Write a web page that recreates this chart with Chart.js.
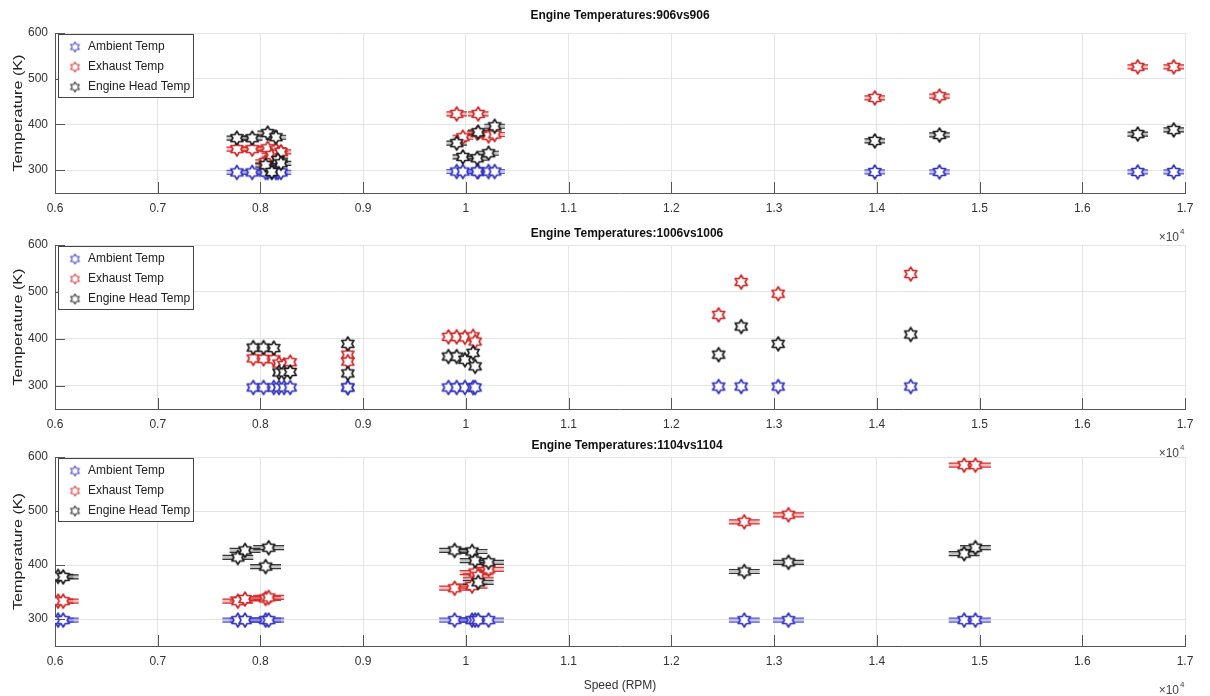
<!DOCTYPE html>
<html><head><meta charset="utf-8">
<script src="https://cdn.jsdelivr.net/npm/chart.js@4.4.1/dist/chart.umd.min.js"></script>
<style>
html,body{margin:0;padding:0;background:#fff;width:1210px;height:696px;overflow:hidden;position:relative}
canvas{position:absolute;left:0}
</style></head><body>
<canvas id="c1" width="1210" height="250" style="top:0px"></canvas>
<canvas id="c2" width="1210" height="240" style="top:222px"></canvas>
<canvas id="c3" width="1210" height="260" style="top:436px"></canvas>
<script>
// ---------- shared labels ----------
const seriesNames = ['Ambient Temp', 'Exhaust Temp', 'Engine Head Temp'];
const xTickValues = [6000, 7000, 8000, 9000, 10000, 11000, 12000, 13000, 14000, 15000, 16000, 17000];
const xTickLabels = ['0.6', '0.7', '0.8', '0.9', '1', '1.1', '1.2', '1.3', '1.4', '1.5', '1.6', '1.7'];
const yTickValues = [300, 400, 500, 600];
const yTickLabels = ['300', '400', '500', '600'];
const titles = ['Engine Temperatures:906vs906', 'Engine Temperatures:1006vs1006', 'Engine Temperatures:1104vs1104'];

// ---------- engine 906 ----------
const speed906   = [7770, 7920, 8070, 8150, 8050, 8110, 8170, 8200, 9910, 10120, 9970, 10110, 10220, 10280, 13980, 14610, 16540, 16890];
const ambient906 = [295, 295, 295, 295, 295, 295, 295, 295, 297, 297, 297, 297, 297, 297, 296, 296, 296, 296];
const exhaust906 = [346, 346, 348, 345, 318, 333, 336, 340, 423, 423, 372, 381, 375, 378, 458, 462, 526, 526];
const head906    = [370, 370, 381, 372, 311, 296, 322, 315, 359, 383, 329, 326, 337, 396, 364, 377, 379, 388];
const speedErr906 = 100;

// ---------- engine 1006 ----------
const speed1006   = [7930, 8030, 8130, 8180, 8230, 8290, 8850, 8850, 9830, 9910, 9990, 10070, 10090, 12460, 12680, 13040, 14330];
const ambient1006 = [296, 296, 296, 296, 296, 296, 296, 296, 296, 296, 296, 296, 296, 298, 298, 298, 298];
const exhaust1006 = [358, 357, 356, 347, 344, 350, 366, 351, 404, 404, 403, 405, 394, 451, 521, 496, 538];
const head1006    = [381, 381, 380, 328, 328, 329, 389, 326, 362, 362, 355, 370, 341, 366, 426, 389, 409];
const speedErr1006 = 30;

// ---------- engine 1104 ----------
const speed1104   = [6030, 6080, 7780, 7850, 8050, 8080, 9890, 10060, 10090, 10120, 10220, 12710, 13140, 14850, 14960];
const ambient1104 = [298, 298, 298, 298, 298, 298, 298, 298, 298, 298, 298, 298, 298, 298, 298];
const exhaust1104 = [333, 333, 333, 337, 338, 340, 357, 361, 386, 380, 392, 480, 493, 585, 585];
const head1104    = [379, 378, 414, 427, 397, 432, 427, 425, 408, 368, 405, 388, 405, 421, 432];
const speedErr1104 = 150;

// ---------- styling ----------
const FONT = "'Liberation Sans', Arial, sans-serif";
const seriesColors = ['#3030c0', '#d02424', '#1a1a1a'];
const legendColors = ['#4a4ad0', '#d84444', '#333333'];
const errFills = ['rgba(110,110,215,0.40)', 'rgba(225,70,70,0.35)', 'rgba(60,60,60,0.30)'];
const errLines = ['rgba(60,60,200,0.75)', 'rgba(210,30,30,0.85)', 'rgba(30,30,30,0.85)'];

function hexagram(color, R, lw) {
  const s = Math.ceil(2 * R + lw * 2 + 2);
  const c = document.createElement('canvas');
  c.width = s; c.height = s;
  const g = c.getContext('2d');
  const cx = s / 2, cy = s / 2, r = R / Math.sqrt(3);
  g.beginPath();
  for (let i = 0; i < 12; i++) {
    const a = -Math.PI / 2 + i * Math.PI / 6;
    const rad = (i % 2 === 0) ? R : r;
    const px = cx + rad * Math.cos(a), py = cy + rad * Math.sin(a);
    if (i === 0) g.moveTo(px, py); else g.lineTo(px, py);
  }
  g.closePath();
  g.fillStyle = '#ffffff';
  g.fill();
  g.strokeStyle = color;
  g.lineWidth = lw;
  g.lineJoin = 'round';
  g.stroke();
  return c;
}

const decor = {
  id: 'decor',
  beforeDatasetsDraw(chart) {
    const ctx = chart.ctx, xs = chart.scales.x, ys = chart.scales.y, a = chart.chartArea;
    ctx.save();
    ctx.beginPath();
    ctx.rect(a.left, a.top, a.right - a.left, a.bottom - a.top);
    ctx.clip();
    chart.data.datasets.forEach((ds, k) => {
      ds.data.forEach(p => {
        const x0 = xs.getPixelForValue(p.x - ds.xErr);
        const x1 = xs.getPixelForValue(p.x + ds.xErr);
        const y = ys.getPixelForValue(p.y);
        ctx.fillStyle = errFills[k];
        ctx.fillRect(x0, y - 2.5, x1 - x0, 5);
        ctx.strokeStyle = errLines[k];
        ctx.lineWidth = 1.2;
        ctx.beginPath();
        ctx.moveTo(x0, y - 2); ctx.lineTo(x1, y - 2);
        ctx.moveTo(x0, y + 2); ctx.lineTo(x1, y + 2);
        ctx.stroke();
      });
    });
    ctx.restore();
  },
  afterDraw(chart) {
    const ctx = chart.ctx, a = chart.chartArea, xs = chart.scales.x, ys = chart.scales.y;
    const o = chart.options.plugins.decor;
    ctx.save();
    // inward tick marks
    ctx.strokeStyle = '#555';
    ctx.lineWidth = 1;
    ctx.beginPath();
    xTickValues.forEach(v => {
      const x = Math.round(xs.getPixelForValue(v)) + 0.5;
      ctx.moveTo(x, a.bottom); ctx.lineTo(x, a.bottom - 11);
    });
    yTickValues.forEach(v => {
      const y = Math.round(ys.getPixelForValue(v)) + 0.5;
      ctx.moveTo(a.left, y); ctx.lineTo(a.left + 10, y);
    });
    ctx.stroke();
    // title
    ctx.fillStyle = '#111';
    ctx.font = 'bold 12px ' + FONT;
    ctx.textAlign = 'center';
    ctx.textBaseline = 'middle';
    ctx.fillText(o.title, (a.left + a.right) / 2 + o.titleDx, o.titleY);
    // y axis title (condensed/tall as in reference)
    ctx.save();
    ctx.translate(19, (a.top + a.bottom) / 2);
    ctx.rotate(-Math.PI / 2);
    ctx.scale(1.35, 1);
    ctx.font = '12px ' + FONT;
    ctx.fillStyle = '#222';
    ctx.fillText('Temperature (K)', 0, 0);
    ctx.restore();
    // x10^4 exponent label
    ctx.fillStyle = '#444';
    ctx.font = '12px ' + FONT;
    ctx.textAlign = 'right';
    ctx.fillText('\u00d710', a.right - 6, a.bottom + 45);
    ctx.font = '8px ' + FONT;
    ctx.textAlign = 'left';
    ctx.fillText('4', a.right - 5, a.bottom + 39);
    // x axis title
    if (o.xTitle) {
      ctx.font = '12px ' + FONT;
      ctx.textAlign = 'center';
      ctx.fillStyle = '#333';
      ctx.fillText(o.xTitle, (a.left + a.right) / 2, a.bottom + 40);
    }
    // legend box
    const L = a.left + 3, T = a.top + 1, W = 135, H = 63;
    ctx.fillStyle = '#fff';
    ctx.fillRect(L, T, W, H);
    ctx.strokeStyle = '#444';
    ctx.lineWidth = 1;
    ctx.strokeRect(L + 0.5, T + 0.5, W, H);
    chart.data.datasets.forEach((ds, k) => {
      const yy = T + 13 + k * 20;
      const img = o.legendMarkers[k];
      ctx.drawImage(img, L + 17 - img.width / 2, yy - img.height / 2);
      ctx.fillStyle = '#222';
      ctx.font = '12px ' + FONT;
      ctx.textAlign = 'left';
      ctx.textBaseline = 'middle';
      ctx.fillText(ds.label, L + 30, yy);
    });
    ctx.restore();
  }
};

function makeChart(id, title, titleY, titleDx, speeds, amb, exh, head, err, padTop, chartH, areaH, xTitle) {
  const temps = [amb, exh, head];
  const markers = seriesColors.map(c => hexagram(c, 7, 1.6));
  const legendMarkers = legendColors.map(c => hexagram(c, 5, 1.1));
  const datasets = temps.map((arr, k) => ({
    label: seriesNames[k],
    data: speeds.map((s, i) => ({ x: s, y: arr[i] })),
    xErr: err,
    pointStyle: markers[k],
    pointRadius: 6,
    pointHoverRadius: 6,
    showLine: false,
    order: 3 - k
  }));
  const xAxisH = chartH - padTop - areaH;
  return new Chart(document.getElementById(id), {
    type: 'scatter',
    data: { datasets },
    options: {
      responsive: false,
      animation: false,
      devicePixelRatio: 1,
      layout: { padding: { top: padTop, right: 25, left: 0, bottom: 0 } },
      plugins: {
        legend: { display: false },
        tooltip: { enabled: false },
        decor: { title, titleY, titleDx, xTitle, legendMarkers }
      },
      scales: {
        x: {
          type: 'linear', min: 6000, max: 17000,
          afterBuildTicks: s => { s.ticks = xTickValues.map(v => ({ value: v })); },
          afterFit: s => { s.height = xAxisH; },
          ticks: {
            callback: (v, i) => xTickLabels[i],
            font: { family: FONT, size: 12 }, color: '#333', padding: 8, maxRotation: 0, autoSkip: false
          },
          grid: { color: '#e4e4e4', drawTicks: false },
          border: { display: true, color: '#555', width: 1 }
        },
        y: {
          type: 'linear', min: 250, max: 600,
          afterBuildTicks: s => { s.ticks = yTickValues.map(v => ({ value: v })); },
          afterFit: s => { s.width = 55; },
          ticks: {
            callback: (v, i) => yTickLabels[i],
            font: { family: FONT, size: 12 }, color: '#333', padding: 7
          },
          grid: { color: '#e4e4e4', drawTicks: false },
          border: { display: true, color: '#555', width: 1 }
        }
      }
    },
    plugins: [decor]
  });
}

makeChart('c1', titles[0], 16, 0, speed906, ambient906, exhaust906, head906, speedErr906, 33, 250, 160, null);
makeChart('c2', titles[1], 12, 7, speed1006, ambient1006, exhaust1006, head1006, speedErr1006, 23, 240, 164, null);
makeChart('c3', titles[2], 10, 7, speed1104, ambient1104, exhaust1104, head1104, speedErr1104, 21, 260, 189, 'Speed (RPM)');
</script>
</body></html>
